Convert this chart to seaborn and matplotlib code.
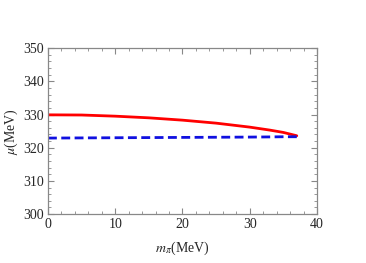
import numpy as np
import pandas as pd
import seaborn as sns
import matplotlib.pyplot as plt
from matplotlib.ticker import MultipleLocator

# valores
m_pi = [0, 5, 10, 15, 20, 25, 30, 33, 35, 37]
mu_vermelho = [329.9, 329.85, 329.5, 329.0, 328.3, 327.4, 326.2, 325.3, 324.6, 323.6]
mu_azul = [322.9, 322.95, 323.0, 323.05, 323.1, 323.15, 323.2, 323.25, 323.3, 323.3]

df = pd.DataFrame({"m_pi": m_pi + m_pi,
                   "mu": mu_vermelho + mu_azul,
                   "curva": ["vermelho"] * len(m_pi) + ["azul"] * len(m_pi)})

sns.set_style("ticks")
plt.rcParams["font.family"] = ["Liberation Serif", "DejaVu Serif"]
plt.rcParams["mathtext.fontset"] = "stix"

fig = plt.figure(figsize=(3.66, 2.63), dpi=100)
ax = fig.add_axes([0.131, 0.186, 0.735, 0.631])

sns.lineplot(data=df[df.curva == "vermelho"], x="m_pi", y="mu", color="red", lw=2, ax=ax)
sns.lineplot(data=df[df.curva == "azul"], x="m_pi", y="mu", color="#1010e0", lw=2,
             linestyle=(0, (3.2, 1.6)), ax=ax)

ax.set_xlim(0, 40)
ax.set_ylim(300, 350)
ax.xaxis.set_major_locator(MultipleLocator(10))
ax.xaxis.set_minor_locator(MultipleLocator(2))
ax.yaxis.set_major_locator(MultipleLocator(10))
ax.yaxis.set_minor_locator(MultipleLocator(2))
ax.tick_params(which="both", direction="in", top=True, right=True, color="#888888",
               labelsize=10, pad=3)
ax.tick_params(which="major", length=4, width=0.8)
ax.tick_params(which="minor", length=2, width=0.6)
for s in ax.spines.values():
    s.set_color("#888888")
    s.set_linewidth(0.9)

ax.set_xlabel(r"$m_{\pi}$(MeV)", fontsize=10, labelpad=6)
ax.set_ylabel(r"$\mu$(MeV)", fontsize=10, labelpad=2)

plt.savefig("out.png", dpi=100)
